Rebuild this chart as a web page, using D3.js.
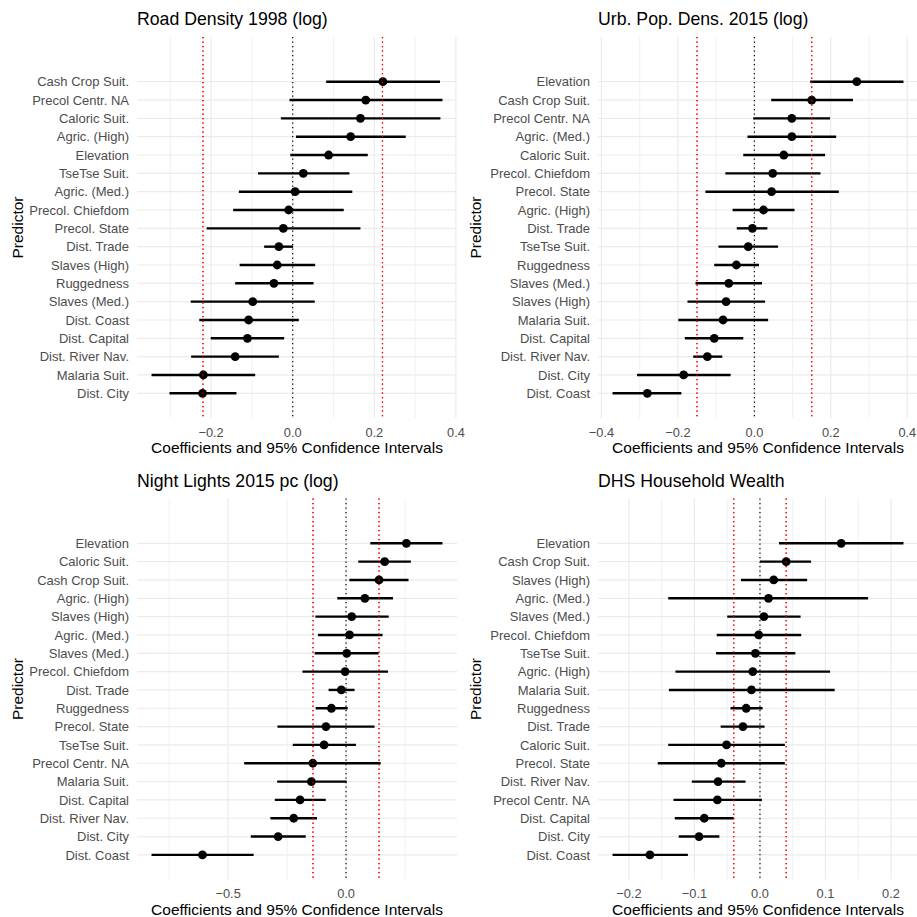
<!DOCTYPE html>
<html>
<head>
<meta charset="utf-8">
<script src="https://cdn.jsdelivr.net/npm/d3@7"></script>
<style>
  body { margin: 0; background: #fff; }
  svg { display: block; font-family: "Liberation Sans", Arial, Helvetica, sans-serif; }
</style>
</head>
<body>
<div id="chart"></div>
<script>
// panel titles and thresholds (red dotted lines)
var titles = ["Road Density 1998 (log)", "Urb. Pop. Dens. 2015 (log)", "Night Lights 2015 pc (log)", "DHS Household Wealth"];
var thresholds = [0.22, 0.15, 0.14, 0.04];

// Road Density 1998 (top to bottom)
var roadLabels = ["Cash Crop Suit.", "Precol Centr. NA", "Caloric Suit.", "Agric. (High)", "Elevation", "TseTse Suit.", "Agric. (Med.)", "Precol. Chiefdom", "Precol. State", "Dist. Trade", "Slaves (High)", "Ruggedness", "Slaves (Med.)", "Dist. Coast", "Dist. Capital", "Dist. River Nav.", "Malaria Suit.", "Dist. City"];
var roadEst = [0.221, 0.179, 0.166, 0.142, 0.088, 0.026, 0.006, -0.010, -0.023, -0.034, -0.038, -0.046, -0.098, -0.108, -0.111, -0.141, -0.219, -0.221];
var roadLo = [0.082, -0.008, -0.029, 0.008, -0.006, -0.085, -0.132, -0.146, -0.211, -0.070, -0.130, -0.141, -0.250, -0.229, -0.201, -0.249, -0.346, -0.302];
var roadHi = [0.361, 0.367, 0.362, 0.277, 0.184, 0.139, 0.146, 0.125, 0.166, 0.001, 0.055, 0.051, 0.054, 0.015, -0.021, -0.034, -0.092, -0.138];
var roadTicks = [-0.2, 0, 0.2, 0.4];
var roadMinor = [-0.3, -0.1, 0.1, 0.3];

// Urb. Pop. Dens. 2015
var urbLabels = ["Elevation", "Cash Crop Suit.", "Precol Centr. NA", "Agric. (Med.)", "Caloric Suit.", "Precol. Chiefdom", "Precol. State", "Agric. (High)", "Dist. Trade", "TseTse Suit.", "Ruggedness", "Slaves (Med.)", "Slaves (High)", "Malaria Suit.", "Dist. Capital", "Dist. River Nav.", "Dist. City", "Dist. Coast"];
var urbEst = [0.268, 0.150, 0.098, 0.098, 0.077, 0.048, 0.045, 0.024, -0.005, -0.016, -0.047, -0.067, -0.074, -0.082, -0.105, -0.123, -0.185, -0.280];
var urbLo = [0.146, 0.044, -0.003, -0.018, -0.029, -0.076, -0.128, -0.057, -0.046, -0.094, -0.105, -0.154, -0.175, -0.199, -0.182, -0.160, -0.307, -0.371];
var urbHi = [0.390, 0.258, 0.198, 0.214, 0.185, 0.173, 0.221, 0.105, 0.034, 0.062, 0.012, 0.020, 0.028, 0.036, -0.029, -0.084, -0.062, -0.191];
var urbTicks = [-0.4, -0.2, 0, 0.2, 0.4];
var urbMinor = [-0.3, -0.1, 0.1, 0.3];

// Night Lights 2015 pc
var nightLabels = ["Elevation", "Caloric Suit.", "Cash Crop Suit.", "Agric. (High)", "Slaves (High)", "Agric. (Med.)", "Slaves (Med.)", "Precol. Chiefdom", "Dist. Trade", "Ruggedness", "Precol. State", "TseTse Suit.", "Precol Centr. NA", "Malaria Suit.", "Dist. Capital", "Dist. River Nav.", "Dist. City", "Dist. Coast"];
var nightEst = [0.256, 0.164, 0.140, 0.080, 0.024, 0.015, 0.003, -0.004, -0.020, -0.062, -0.085, -0.093, -0.141, -0.147, -0.195, -0.222, -0.288, -0.609];
var nightLo = [0.103, 0.052, 0.014, -0.037, -0.130, -0.119, -0.133, -0.185, -0.074, -0.129, -0.291, -0.226, -0.432, -0.292, -0.302, -0.321, -0.404, -0.825];
var nightHi = [0.409, 0.275, 0.265, 0.199, 0.181, 0.155, 0.138, 0.178, 0.036, 0.007, 0.121, 0.042, 0.147, 0.003, -0.086, -0.123, -0.171, -0.392];
var nightTicks = [-0.5, 0];
var nightMinor = [-0.75, -0.25, 0.25];

// DHS Household Wealth
var dhsLabels = ["Elevation", "Cash Crop Suit.", "Slaves (High)", "Agric. (Med.)", "Slaves (Med.)", "Precol. Chiefdom", "TseTse Suit.", "Agric. (High)", "Malaria Suit.", "Ruggedness", "Dist. Trade", "Caloric Suit.", "Precol. State", "Dist. River Nav.", "Precol Centr. NA", "Dist. Capital", "Dist. City", "Dist. Coast"];
var dhsEst = [0.124, 0.040, 0.021, 0.013, 0.006, -0.002, -0.007, -0.011, -0.013, -0.021, -0.026, -0.051, -0.059, -0.064, -0.065, -0.085, -0.093, -0.168];
var dhsLo = [0.029, 0.000, -0.029, -0.140, -0.050, -0.066, -0.067, -0.129, -0.139, -0.045, -0.060, -0.140, -0.156, -0.104, -0.132, -0.130, -0.124, -0.225];
var dhsHi = [0.219, 0.078, 0.072, 0.165, 0.062, 0.063, 0.054, 0.107, 0.114, 0.004, 0.007, 0.038, 0.038, -0.022, 0.003, -0.040, -0.062, -0.110];
var dhsTicks = [-0.2, -0.1, 0, 0.1, 0.2];
var dhsMinor = [-0.15, -0.05, 0.05, 0.15];

var panels = [
  { labels: roadLabels, est: roadEst, lo: roadLo, hi: roadHi, ticks: roadTicks, minor: roadMinor },
  { labels: urbLabels, est: urbEst, lo: urbLo, hi: urbHi, ticks: urbTicks, minor: urbMinor },
  { labels: nightLabels, est: nightEst, lo: nightLo, hi: nightHi, ticks: nightTicks, minor: nightMinor },
  { labels: dhsLabels, est: dhsEst, lo: dhsLo, hi: dhsHi, ticks: dhsTicks, minor: dhsMinor }
];

var width = 917, height = 917;
var colLeft = [137, 598], rowTop = [37, 498.6];
var panelW = 320, panelH = 381;
var padTop = 44.7, padBottom = 24.7;

var svg = d3.select("#chart").append("svg")
  .attr("width", width)
  .attr("height", height);

var fmt = function (v) {
  var s = d3.format(".1f")(Math.abs(v));
  return (v < 0 ? "\u2212" : "") + s;
};

function dotted(g, xv, color) {
  g.append("line")
    .attr("x1", xv).attr("x2", xv)
    .attr("y1", 0).attr("y2", panelH)
    .attr("stroke", color).attr("stroke-width", 1.2)
    .attr("stroke-dasharray", "1.2,3.3");
}

panels.forEach(function (p, i) {
  var left = colLeft[i % 2], top = rowTop[Math.floor(i / 2)];
  var g = svg.append("g").attr("transform", "translate(" + left + "," + top + ")");

  var ext = [d3.min(p.lo), d3.max(p.hi)];
  var pad = (ext[1] - ext[0]) * 0.05;
  var x = d3.scaleLinear().domain([ext[0] - pad, ext[1] + pad]).range([0, panelW]);
  var y = d3.scalePoint().domain(p.labels).range([padTop, panelH - padBottom]);

  // grid
  g.selectAll(".minor").data(p.minor).enter().append("line")
    .attr("x1", d => x(d)).attr("x2", d => x(d))
    .attr("y1", 0).attr("y2", panelH)
    .attr("stroke", "#ebebeb").attr("stroke-width", 0.7);
  g.selectAll(".major").data(p.ticks).enter().append("line")
    .attr("x1", d => x(d)).attr("x2", d => x(d))
    .attr("y1", 0).attr("y2", panelH)
    .attr("stroke", "#ebebeb").attr("stroke-width", 1.2);
  g.selectAll(".hgrid").data(p.labels).enter().append("line")
    .attr("x1", 0).attr("x2", panelW)
    .attr("y1", d => y(d)).attr("y2", d => y(d))
    .attr("stroke", "#ebebeb").attr("stroke-width", 1.2);

  // reference lines
  dotted(g, x(-thresholds[i]), "red");
  dotted(g, x(thresholds[i]), "red");
  dotted(g, x(0), "black");

  // error bars + points
  var rows = p.labels.map(function (l, j) { return { label: l, est: p.est[j], lo: p.lo[j], hi: p.hi[j] }; });
  g.selectAll(".ci").data(rows).enter().append("line")
    .attr("x1", d => x(d.lo)).attr("x2", d => x(d.hi))
    .attr("y1", d => y(d.label)).attr("y2", d => y(d.label))
    .attr("stroke", "black").attr("stroke-width", 2.4);
  g.selectAll(".pt").data(rows).enter().append("circle")
    .attr("cx", d => x(d.est)).attr("cy", d => y(d.label))
    .attr("r", 4.4).attr("fill", "black");

  // red lines on top, they show through the points in the original
  dotted(g, x(-thresholds[i]), "red");
  dotted(g, x(thresholds[i]), "red");

  // y labels
  g.selectAll(".ylab").data(p.labels).enter().append("text")
    .attr("x", -8).attr("y", d => y(d)).attr("dy", "0.36em")
    .attr("text-anchor", "end")
    .attr("font-size", 13).attr("fill", "#4d4d4d")
    .text(d => d);

  // x tick labels
  g.selectAll(".xlab").data(p.ticks).enter().append("text")
    .attr("x", d => x(d)).attr("y", panelH + 18.5)
    .attr("text-anchor", "middle")
    .attr("font-size", 12.8).attr("fill", "#4d4d4d")
    .text(fmt);

  // axis titles
  g.append("text")
    .attr("x", panelW / 2).attr("y", panelH + 35)
    .attr("text-anchor", "middle")
    .attr("font-size", 15.5).attr("fill", "black")
    .text("Coefficients and 95% Confidence Intervals");
  g.append("text")
    .attr("transform", "translate(" + (22.7 - left + (i % 2) * 458.5) + "," + (panelH / 2) + ") rotate(-90)")
    .attr("text-anchor", "middle")
    .attr("font-size", 15.5).attr("fill", "black")
    .text("Predictor");

  // title
  g.append("text")
    .attr("x", 0).attr("y", -12)
    .attr("font-size", 17.7).attr("fill", "black")
    .text(titles[i]);
});
</script>
</body>
</html>
